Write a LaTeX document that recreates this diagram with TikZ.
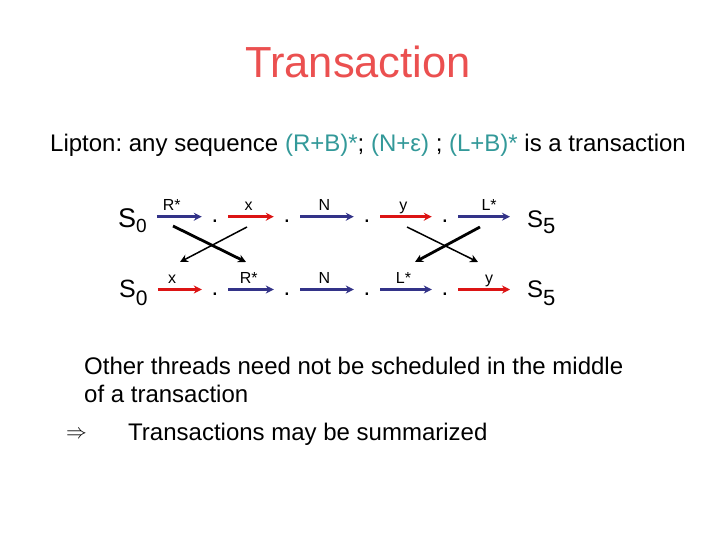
\documentclass[tikz,border=0pt]{standalone}
\usepackage{fontspec}
\setmainfont{Liberation Sans}
\usetikzlibrary{arrows.meta}
\definecolor{titlered}{RGB}{235,80,80}
\definecolor{seqteal}{RGB}{51,153,153}
\definecolor{arrblue}{RGB}{51,51,136}
\definecolor{arrred}{RGB}{220,20,20}
\frenchspacing
\begin{document}
\begin{tikzpicture}[x=1pt,y=-1pt,>={Stealth[length=8pt,width=8pt]},line join=round,
	state/.style={anchor=base west,inner sep=0pt,font=\fontsize{24}{28}\selectfont},
	pt/.style={text height=12pt,text depth=0pt,inner sep=0pt,minimum width=26pt,font=\fontsize{24}{28}\selectfont},
	bluearr/.style={->,line width=2.5pt,arrblue},
	redarr/.style={->,line width=2.5pt,arrred},
	lbl/.style={anchor=base,yshift=6pt,pos=0.45,inner sep=0pt,black,font=\fontsize{16}{18}\selectfont},
	body/.style={anchor=base west,inner sep=0pt,align=left,font=\fontsize{24}{28}\selectfont}]
	\useasboundingbox[fill=white] (0,0) rectangle (720,540);
	% title and rule
	\node[anchor=base,inner sep=0pt,titlered,font=\fontsize{43.5}{46}\selectfont] (title) at (358,78) {Transaction};
	\node[body] (lipton) at (50,152) {Lipton: any sequence \textcolor{seqteal}{(R+B)*}; \textcolor{seqteal}{(N+ε)} ; \textcolor{seqteal}{(L+B)*} is a transaction};
	% first row
	\node[state,font=\fontsize{27}{30}\selectfont] (s0a) at (118,228) {S\raisebox{-5pt}{\fontsize{19}{20}\selectfont 0}};
	\node[pt] (d1a) at (215,216.7) {.};
	\node[pt] (d2a) at (287,216.7) {.};
	\node[pt] (d3a) at (367,216.7) {.};
	\node[pt] (d4a) at (445,216.7) {.};
	\node[state] (s5a) at (527,227) {S\raisebox{-6pt}{\fontsize{22}{24}\selectfont 5}};
	\draw[bluearr,shorten <=10pt] (s0a.east |- d1a) -- (d1a) node[lbl]{R*};
	\draw[redarr] (d1a) -- (d2a) node[lbl]{x};
	\draw[bluearr] (d2a) -- (d3a) node[lbl]{N};
	\draw[redarr] (d3a) -- (d4a) node[lbl]{y};
	\draw[bluearr,shorten >=17pt] (d4a) -- (s5a.west |- d4a) node[lbl]{L*};
	% second row
	\node[state,font=\fontsize{25}{28}\selectfont] (s0b) at (119,297) {S\raisebox{-8pt}{\fontsize{21}{24}\selectfont 0}};
	\node[pt] (d1b) at (215,289.5) {.};
	\node[pt] (d2b) at (287,289.5) {.};
	\node[pt] (d3b) at (367,289.5) {.};
	\node[pt] (d4b) at (445,289.5) {.};
	\node[state] (s5b) at (527,297) {S\raisebox{-8pt}{\fontsize{22}{24}\selectfont 5}};
	\draw[redarr,shorten <=10pt] (s0b.east |- d1b) -- (d1b) node[lbl]{x};
	\draw[bluearr] (d1b) -- (d2b) node[lbl]{R*};
	\draw[bluearr] (d2b) -- (d3b) node[lbl]{N};
	\draw[bluearr] (d3b) -- (d4b) node[lbl]{L*};
	\draw[redarr,shorten >=17pt] (d4b) -- (s5b.west |- d4b) node[lbl]{y};
	% swaps
	\coordinate (la) at (173,226); \coordinate (lb) at (246,262);
	\coordinate (lc) at (247,227); \coordinate (ld) at (180,262);
	\coordinate (ra) at (407,227); \coordinate (rb) at (478,262);
	\coordinate (rc) at (480,227); \coordinate (rd) at (415,262);
	\draw[->,line width=2.8pt] (la)--(lb);
	\draw[->,line width=1.5pt] (lc)--(ld);
	\draw[->,line width=1.5pt] (ra)--(rb);
	\draw[->,line width=2.8pt] (rc)--(rd);
	% remarks
	\node[body] (other) at (84,402) {Other threads need not be scheduled in the middle\\of a transaction};
	\node[anchor=base west,inner sep=0pt,font=\fontsize{20}{24}\selectfont] (impl) at (66,438) {$\Rightarrow$};
	\node[body] (summ) at (128,440) {Transactions may be summarized};
\end{tikzpicture}
\end{document}
